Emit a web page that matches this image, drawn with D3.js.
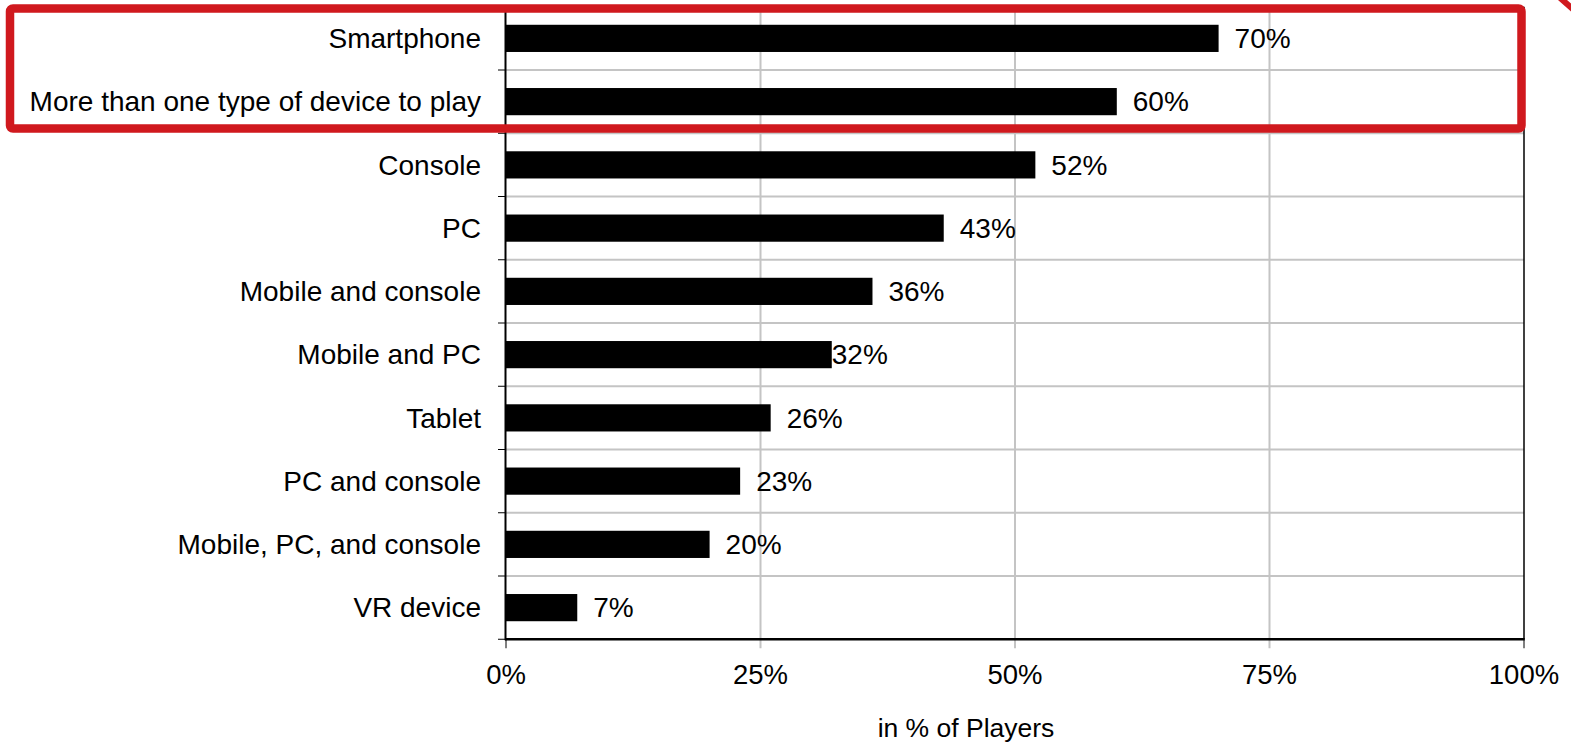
<!DOCTYPE html>
<html>
<head>
<meta charset="utf-8">
<script src="https://cdn.jsdelivr.net/npm/d3@7"></script>
<style>
  html, body { margin: 0; padding: 0; background: #fff; }
  svg { display: block; font-family: "Liberation Sans", Arial, sans-serif; }
</style>
</head>
<body>
<svg id="chart" width="1571" height="743"></svg>
<script>
const categories = [
  "Smartphone",
  "More than one type of device to play",
  "Console",
  "PC",
  "Mobile and console",
  "Mobile and PC",
  "Tablet",
  "PC and console",
  "Mobile, PC, and console",
  "VR device"
];
const values = [70, 60, 52, 43, 36, 32, 26, 23, 20, 7];
const valueLabels = ["70%", "60%", "52%", "43%", "36%", "32%", "26%", "23%", "20%", "7%"];
const xTicks = [0, 25, 50, 75, 100];
const xTickLabels = ["0%", "25%", "50%", "75%", "100%"];
const axisTitle = "in % of Players";

(function () {
const svg = d3.select("#chart");
const pLeft = 506, pRight = 1524, pTop = 6.75, pBottom = 639.25;

const x = d3.scaleLinear().domain([0, 100]).range([pLeft, pRight]);
const yRow = d3.scaleBand().domain(categories).range([pTop, pBottom]).padding(0);
const y = d3.scaleBand().domain(categories).range([pTop, pBottom])
  .paddingInner(0.57).paddingOuter(0.285);

const grid = "#c4c4c4";

// vertical gridlines (extend below axis as ticks for inner ones)
svg.append("g").selectAll("line").data(xTicks.filter(t => t > 0 && t < 100)).join("line")
  .attr("x1", d => x(d)).attr("x2", d => x(d))
  .attr("y1", pTop).attr("y2", pBottom + 9)
  .attr("stroke", grid).attr("stroke-width", 2);

// horizontal gridlines at row boundaries
const boundaries = categories.slice(1).map(c => yRow(c));
svg.append("g").selectAll("line").data(boundaries).join("line")
  .attr("x1", pLeft).attr("x2", pRight)
  .attr("y1", d => d).attr("y2", d => d)
  .attr("stroke", grid).attr("stroke-width", 2);

// left ticks
const allBounds = categories.map(c => yRow(c)).concat([pBottom]);
svg.append("g").selectAll("line").data(allBounds).join("line")
  .attr("x1", pLeft - 8).attr("x2", pLeft)
  .attr("y1", d => d).attr("y2", d => d)
  .attr("stroke", "#000").attr("stroke-width", 1);

// bottom black ticks at 0 and 100
svg.append("g").selectAll("line").data([0, 100]).join("line")
  .attr("x1", d => x(d)).attr("x2", d => x(d))
  .attr("y1", pBottom).attr("y2", pBottom + 9)
  .attr("stroke", "#000").attr("stroke-width", 1);

// bars
svg.append("g").selectAll("rect").data(categories).join("rect")
  .attr("x", x(0))
  .attr("y", d => y(d))
  .attr("width", (d, i) => x(values[i]) - x(0))
  .attr("height", y.bandwidth())
  .attr("fill", "#000");

// axes lines
svg.append("line").attr("x1", pLeft - 0.5).attr("x2", pLeft - 0.5).attr("y1", pTop).attr("y2", pBottom + 1)
  .attr("stroke", "#000").attr("stroke-width", 2);
svg.append("line").attr("x1", pRight).attr("x2", pRight).attr("y1", pTop).attr("y2", pBottom)
  .attr("stroke", "#000").attr("stroke-width", 1.5);
svg.append("line").attr("x1", pLeft - 1).attr("x2", pRight + 0.75).attr("y1", pBottom).attr("y2", pBottom)
  .attr("stroke", "#000").attr("stroke-width", 2.5);

// category labels
svg.append("g").selectAll("text").data(categories).join("text")
  .attr("x", pLeft - 25)
  .attr("y", d => yRow(d) + yRow.bandwidth() / 2)
  .attr("dy", "0.35em")
  .attr("text-anchor", "end")
  .attr("font-size", 28)
  .attr("fill", "#000")
  .text(d => d);

// value labels
svg.append("g").selectAll("text").data(categories).join("text")
  .attr("x", (d, i) => x(values[i]) + (d === "Mobile and PC" ? 0 : 16))
  .attr("y", d => yRow(d) + yRow.bandwidth() / 2)
  .attr("dy", "0.35em")
  .attr("font-size", 28)
  .attr("fill", "#000")
  .text((d, i) => valueLabels[i]);

// x tick labels
svg.append("g").selectAll("text").data(xTicks).join("text")
  .attr("x", d => x(d))
  .attr("y", 684)
  .attr("text-anchor", "middle")
  .attr("font-size", 27.5)
  .attr("fill", "#000")
  .text((d, i) => xTickLabels[i]);

// axis title
svg.append("text")
  .attr("x", 966).attr("y", 737)
  .attr("text-anchor", "middle")
  .attr("font-size", 26.5)
  .attr("fill", "#000")
  .text(axisTitle);

// red highlight box
svg.append("rect")
  .attr("x", 10).attr("y", 8.5)
  .attr("width", 1511.5).attr("height", 120)
  .attr("rx", 3)
  .attr("fill", "none")
  .attr("stroke", "#d0191e")
  .attr("stroke-width", 8.5);

// red arrow fragment at top-right corner
svg.append("line")
  .attr("x1", 1558).attr("y1", -4).attr("x2", 1575).attr("y2", 11)
  .attr("stroke", "#d0191e").attr("stroke-width", 6);
})();
</script>
</body>
</html>
